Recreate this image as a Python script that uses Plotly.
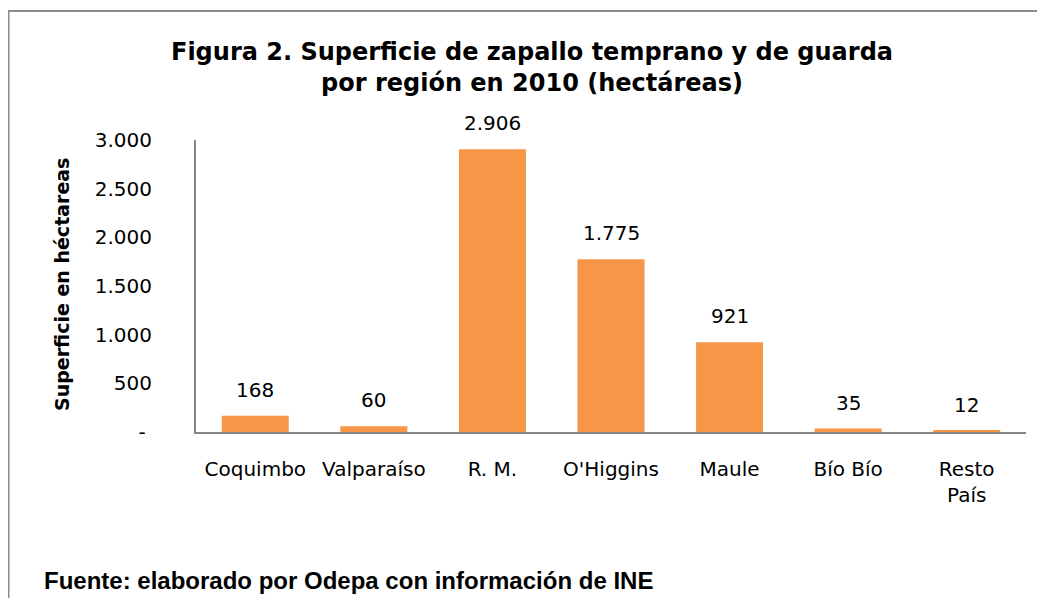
import plotly.graph_objects as go

categorias = ["Coquimbo", "Valparaíso", "R. M.", "O'Higgins", "Maule", "Bío Bío", "Resto<br>País"]
superficie = [168, 60, 2906, 1775, 921, 35, 12]
etiquetas = ["168", "60", "2.906", "1.775", "921", "35", "12"]
ticks_y = [0, 500, 1000, 1500, 2000, 2500, 3000]
ticks_y_texto = ["-\u00a0", "500", "1.000", "1.500", "2.000", "2.500", "3.000"]

W, H = 1045, 598
OFF = 8  # page body margin
L, T = 196 - OFF, 140 - OFF
R = W - (1026 - OFF)
B = H - (432 - OFF)
pw, ph = W - L - R, H - T - B

def px_x(x):
    return (x - OFF - L) / pw

def px_y(y):
    return (H - B - (y - OFF)) / ph

FONT = "DejaVu Sans, Liberation Sans, Arial, sans-serif"
FONT2 = "Liberation Sans, Arial, sans-serif"

fig = go.Figure()
fig.add_trace(go.Bar(
    x=categorias, y=superficie,
    marker=dict(color="#F79646", line=dict(width=0)),
    width=0.565,
))

annotations = [
    dict(x=c, y=v, text=t, xref="x", yref="y", yanchor="bottom", yshift=12,
         showarrow=False, font=dict(size=20, family=FONT, color="#000000"))
    for c, v, t in zip(categorias, superficie, etiquetas)
]
annotations += [
    dict(text="<b>Figura 2. Superficie de zapallo temprano y de guarda<br>por región en 2010 (hectáreas)</b>",
         xref="paper", yref="paper", x=px_x(532), y=px_y(67),
         xanchor="center", yanchor="middle", showarrow=False,
         font=dict(size=24, family=FONT, color="#000000")),
    dict(text="<b>Superficie en héctareas</b>",
         xref="paper", yref="paper", x=px_x(62), y=px_y(285),
         xanchor="center", yanchor="middle", showarrow=False, textangle=-90,
         font=dict(size=19, family=FONT, color="#000000")),
    dict(text="<b>Fuente: elaborado por Odepa con información de INE</b>",
         xref="paper", yref="paper", x=px_x(42), y=px_y(580),
         xanchor="left", yanchor="middle", showarrow=False,
         font=dict(size=24, family=FONT2, color="#000000")),
]

fig.update_layout(
    width=W, height=H,
    margin=dict(l=L, r=R, t=T, b=B),
    paper_bgcolor="white", plot_bgcolor="white",
    showlegend=False,
    font=dict(family=FONT, color="#000000"),
    xaxis=dict(
        showline=True, linecolor="#868686", linewidth=2,
        tickfont=dict(size=20, family=FONT), ticks="",
        ticklabelstandoff=18,
    ),
    yaxis=dict(
        range=[0, 3000], tickvals=ticks_y, ticktext=ticks_y_texto,
        showgrid=False, zeroline=False,
        showline=True, linecolor="#868686", linewidth=2,
        tickfont=dict(size=20, family=FONT), ticks="",
        ticklabelstandoff=38,
    ),
    shapes=[
        dict(type="line", xref="paper", yref="paper",
             x0=px_x(8), x1=px_x(1060), y0=px_y(11), y1=px_y(11),
             line=dict(color="#8c8c8c", width=2)),
        dict(type="line", xref="paper", yref="paper",
             x0=px_x(8.5), x1=px_x(8.5), y0=px_y(11), y1=px_y(620),
             line=dict(color="#8c8c8c", width=2)),
    ],
    annotations=annotations,
)

fig.write_html("out.html")
